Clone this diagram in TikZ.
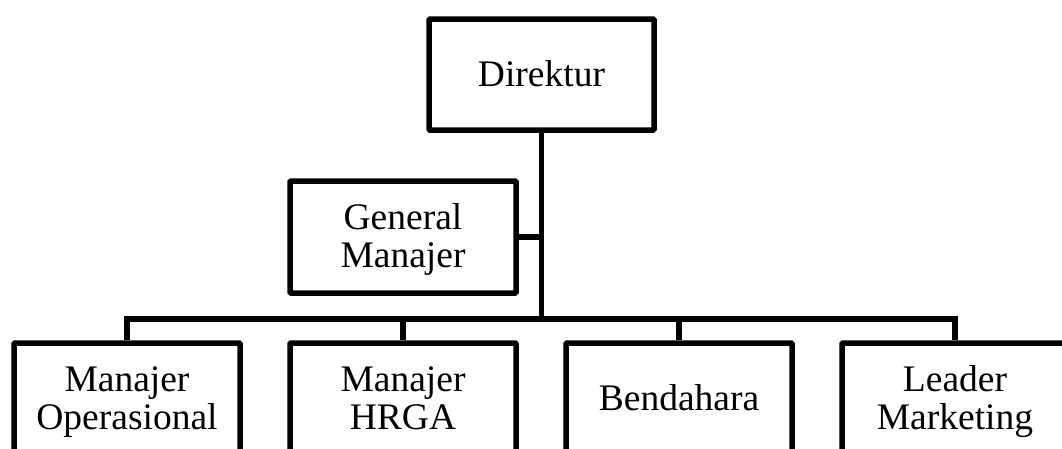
\documentclass[tikz,border=0pt]{standalone}
\usepackage{fontspec}
\setmainfont{Liberation Serif}
\newcommand{\orgstrut}{\rule[-9pt]{0pt}{41.4pt}}
\newcommand{\orgfont}{\fontsize{37.5}{38.5}\selectfont\lineskiplimit=-50pt\relax\lineskip=0pt\relax}
\begin{document}
\begin{tikzpicture}[x=1pt,y=-1pt,
  orgbox/.style={draw=black, line width=5.5pt, minimum width=226pt, minimum height=112pt,
    inner sep=0pt, align=center, font=\orgfont, rounded corners=1pt},
  link/.style={draw=black, line width=5.5pt}]
\useasboundingbox (0,0) rectangle (1062,448);
\node[orgbox, minimum width=225pt, minimum height=111pt] (dir) at (541.5,74.5) {\orgstrut Direktur};
\node[orgbox] (gm) at (403,237) {\orgstrut General\\\orgstrut Manajer};
\node[orgbox] (mo) at (127,399) {\orgstrut Manajer\\\orgstrut Operasional};
\node[orgbox] (mh) at (403,399) {\orgstrut Manajer\\\orgstrut HRGA};
\node[orgbox] (bd) at (679,399) {\orgstrut Bendahara};
\node[orgbox] (lm) at (955,399) {\orgstrut Leader\\\orgstrut Marketing};
\coordinate (bus) at (541.5,319);
\draw[link] (dir.south) -- (bus);
\draw[link] (gm.east) -- (gm.east -| dir.south);
\draw[link] (mo.north) |- (bus) -| (lm.north);
\draw[link] (mh.north) -- (mh.north |- bus);
\draw[link] (bd.north) -- (bd.north |- bus);
\end{tikzpicture}
\end{document}
